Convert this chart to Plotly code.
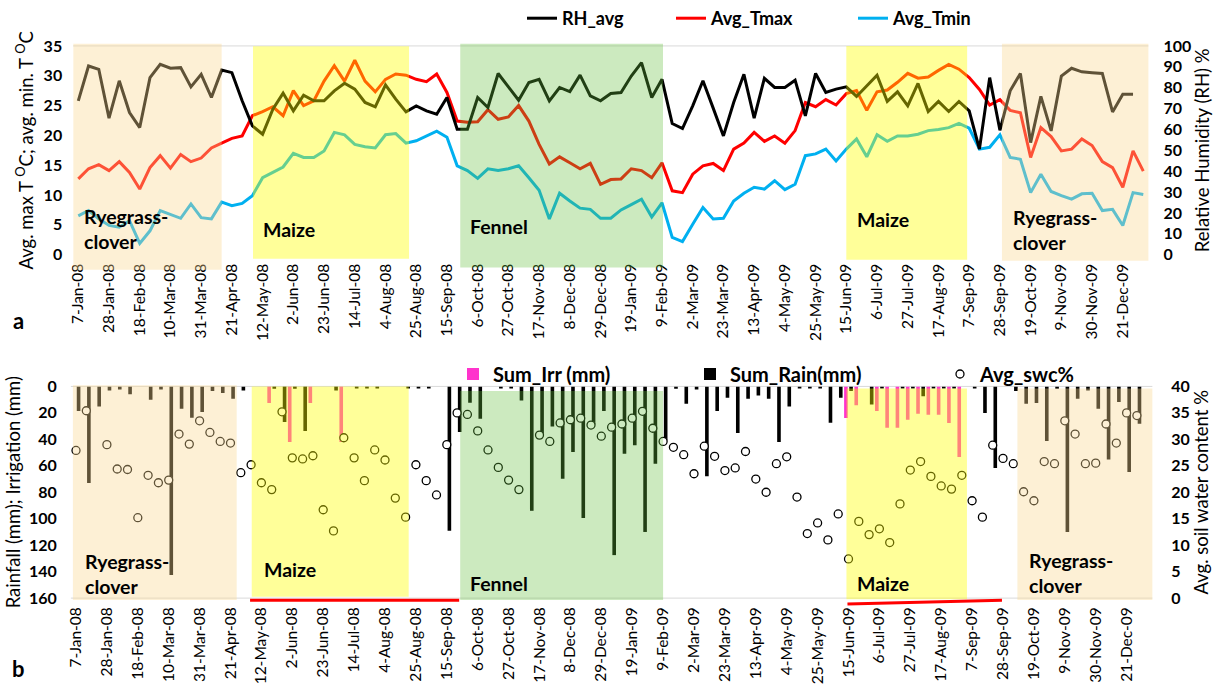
import pandas as pd
import plotly.graph_objects as go

N = None

# ---- weekly time axis (Monday of each week) ----
weeks = pd.date_range("2008-01-07", periods=105, freq="7D")
week_labels = [f"{d.day}-{d.strftime('%b')}-{d.strftime('%y')}" for d in weeks]
tick_weeks = list(weeks[::3])
tick_text = week_labels[::3]

# ---- panel a: weekly climate ----
rh_avg = [
    73.7, 90.4, 88.8, 65.4, 83.3, 68.1, 60.9, 84.8, 91.2, 89.3, 89.6, 80.4, 86.4, 75.3, 88.4, 87.2,
    73.7, 61.7, 57.7, 69.7, 77.4, 68.9, 76.4, 73.7, 73.7, 78.5, 82.1, 79.3, 72.9, 70.8, 81.3, 74.5,
    68.4, 71.3, 68.9, 67.3, 75.3, 60.1, 60.1, 75.3, 70.5, 86.8, 80.4, 74.0, 82.5, 84.0, 73.7, 80.1,
    78.1, 86.0, 76.1, 73.7, 77.2, 77.7, 85.6, 92.0, 75.3, 84.0, 62.8, 60.4, 71.3, 83.3, 70.2, 56.9,
    72.9, 86.4, 65.4, 84.5, 80.1, 80.1, 83.6, 66.5, 86.8, 77.7, 79.3, 80.4, 75.8, 80.9, 86.0, 73.4,
    78.0, 71.3, 82.0, 68.6, 73.4, 68.6, 73.4, 68.9, 50.6, 84.8, 59.6, 78.5, 86.8, 53.7, 75.8, 59.3,
    85.6, 89.3, 87.6, 87.2, 86.8, 68.4, 76.9, 76.9,
]
avg_tmax = [
    12.7, 14.4, 15.1, 14.1, 15.6, 13.8, 11.0, 14.6, 16.6, 14.5, 16.8, 15.6, 16.2, 17.9, 18.7, 19.5,
    19.9, 23.3, 24.0, 24.8, 23.3, 27.5, 25.0, 25.8, 29.1, 31.7, 29.1, 32.6, 29.1, 27.3, 29.4, 30.3,
    30.1, 29.4, 29.0, 30.3, 27.2, 22.4, 22.2, 22.3, 24.3, 22.7, 23.1, 25.0, 22.4, 18.5, 15.2, 16.4,
    15.4, 14.4, 15.3, 11.8, 12.6, 12.7, 14.4, 14.1, 12.9, 15.4, 10.7, 10.4, 13.5, 14.9, 15.3, 14.1,
    17.7, 18.7, 20.5, 19.0, 19.9, 18.7, 20.8, 25.5, 24.8, 26.0, 25.1, 27.0, 27.5, 24.2, 27.3, 27.6,
    28.9, 30.4, 29.6, 29.8, 30.9, 31.9, 31.1, 29.7, 27.7, 25.1, 26.0, 24.2, 23.8, 16.3, 21.3, 19.8,
    17.4, 17.7, 19.4, 18.3, 15.6, 14.6, 11.3, 17.4, 14.0,
]
avg_tmin = [
    6.5, 7.4, 6.0, 4.9, 4.6, 5.7, 1.9, 4.0, 7.4, 6.7, 6.1, 8.5, 6.2, 6.0, 8.8, 8.2,
    8.6, 9.9, 12.9, 13.8, 14.7, 17.0, 16.3, 16.3, 17.4, 20.5, 20.1, 18.5, 18.1, 17.9, 20.1, 20.3,
    18.7, 19.1, 19.9, 20.7, 19.7, 14.9, 14.1, 12.8, 14.4, 14.1, 14.4, 14.9, 12.9, 10.8, 6.0, 10.3,
    9.0, 7.8, 7.6, 6.1, 6.1, 7.5, 8.4, 9.3, 6.3, 8.7, 2.9, 2.2, 5.1, 7.9, 6.0, 6.1,
    9.0, 10.3, 11.3, 11.0, 12.4, 10.9, 11.8, 16.6, 16.9, 17.7, 15.7, 17.7, 19.4, 16.4, 20.1, 19.0,
    19.9, 19.9, 20.2, 20.8, 21.0, 21.3, 22.0, 21.2, 17.7, 18.0, 20.1, 16.3, 16.0, 10.4, 13.5, 10.6,
    9.9, 9.3, 10.2, 10.3, 7.4, 7.6, 4.9, 10.4, 10.1,
]

# ---- panel b: weekly water balance ----
sum_irr = [N] * 104
for wk_i, mm in [(19, 12.6), (21, 42.0), (23, 12.6), (26, 42.0), (75, 23.9), (76, 14.3), (78, 18.6),
                 (79, 31.2), (80, 31.2), (81, 25.2), (82, 20.6), (83, 21.4), (84, 21.4), (85, 27.7),
                 (86, 53.3)]:
    sum_irr[wk_i] = mm
sum_rain = [
    18.6, 73.0, 15.1, 3.0, 2.3, 6.0, N, 10.0, 2.3, 142.6, 16.9, 23.6, 19.4, 3.5, 5.0, 9.3,
    3.0, N, N, 1.8, 26.9, 1.8, 33.7, N, N, 3.0, N, 1.0, 1.0, 1.0, N, N,
    1.0, 1.0, 1.0, N, 109.0, 34.5, 12.3, 24.4, N, 1.0, 1.0, 10.6, 94.0, 35.7, 30.2, 69.7,
    49.6, 99.4, 28.7, 18.6, 127.5, 50.8, 44.5, 110.0, 58.4, 40.8, 1.8, 13.1, 2.3, 67.9, 18.6, 8.6,
    35.2, 9.3, 6.8, 9.3, 42.0, 15.1, 1.0, 1.0, 1.0, 27.4, 8.6, 3.5, N, 13.6, 1.0, N,
    1.0, 1.0, 7.5, 1.0, 1.0, 1.0, N, 1.0, 20.1, 61.6, N, 3.5, 13.1, 12.6, 41.3, 1.8,
    110.0, 9.3, 3.0, 16.9, 55.3, 11.8, 64.7, 28.2,
]
avg_swc = [
    27.9, 35.4, N, 29.0, 24.4, 24.3, 15.2, 23.2, 21.8, 22.3, 31.0, 29.1, 33.5, 31.3, 29.6, 29.3,
    23.7, 25.2, 21.8, 20.5, 35.2, 26.5, 26.3, 26.9, 16.7, 12.7, 30.3, 26.5, 22.2, 28.0, 26.1, 18.9,
    15.3, 25.2, 22.2, 19.5, 29.0, 35.0, 34.7, 31.6, 28.0, 24.7, 22.3, 20.5, N, 30.8, 29.6, 33.1,
    33.7, 34.0, 32.7, 30.6, 32.3, 32.9, 34.0, 35.3, 32.1, 29.6, 28.5, 27.1, 23.5, 28.7, 26.8, 24.1,
    24.6, 27.7, 22.5, 20.0, 25.4, 26.7, 19.1, 12.2, 14.2, 11.0, 15.9, 7.4, 14.5, 12.0, 13.1, 10.5,
    17.8, 24.2, 25.8, 23.0, 21.2, 20.6, 23.2, 18.4, 15.3, 28.9, 26.4, 25.4, 20.1, 18.4, 25.8, 25.4,
    33.5, 31.0, 25.4, 25.5, 32.9, 29.3, 35.0, 34.5,
]

# crop seasons as week offsets from 7-Jan-08: (label, crop, start, end, bottom/top extent in axis-domain units)
seasons_a = [
    ("Ryegrass-<br>clover", "ryegrass", -0.5, 14.0, -0.072, 1.01),
    ("Maize", "maize", 17.06, 32.3, -0.019, 0.998),
    ("Fennel", "fennel", 37.3, 57.1, -0.062, 1.01),
    ("Maize", "maize", 75.0, 86.8, -0.024, 1.0),
    ("Ryegrass-<br>clover", "ryegrass", 90.2, 104.7, -0.029, 1.01),
]
seasons_b = [
    ("Ryegrass-<br>clover", "ryegrass", -0.3, 15.6, -0.009, 1.005),
    ("Maize", "maize", 17.06, 32.3, 0.006, 1.0),
    ("Fennel", "fennel", 37.3, 57.0, -0.009, 0.978),
    ("Maize", "maize", 74.8, 86.5, -0.005, 0.99),
    ("Ryegrass-<br>clover", "ryegrass", 91.4, 104.6, -0.009, 0.99),
]
# crop-label placement: (week, height in axis-domain units)
labels_a = [(0.36, 0.124), (17.85, 0.12), (38.05, 0.134), (75.85, 0.167), (91.1, 0.117)]
labels_b = [(0.7, 0.116), (18.1, 0.137), (38.1, 0.071), (75.6, 0.071), (92.3, 0.12)]
# maize growing periods marked under panel b
maize_periods = [(16.9, 37.2, -0.01, -0.01), (74.9, 89.9, -0.028, -0.01)]

band_fill = {
    "ryegrass": ("rgb(250,216,145)", 0.38),
    "maize": ("rgb(255,255,0)", 0.40),
    "fennel": ("rgb(100,190,60)", 0.33),
}


def wk(w):
    return weeks[0] + pd.Timedelta(days=7 * w)


FONT = "Lato, 'Open Sans', sans-serif"
x_range = [wk(-0.5), wk(104.5)]

fig = go.Figure()

# panel a lines
fig.add_trace(go.Scatter(x=weeks[:len(rh_avg)], y=rh_avg, name="RH_avg", mode="lines",
                         line=dict(color="#000000", width=3), xaxis="x", yaxis="y2", legend="legend"))
fig.add_trace(go.Scatter(x=weeks, y=avg_tmax, name="Avg_Tmax", mode="lines",
                         line=dict(color="#FF0000", width=3), xaxis="x", yaxis="y", legend="legend2"))
fig.add_trace(go.Scatter(x=weeks, y=avg_tmin, name="Avg_Tmin", mode="lines",
                         line=dict(color="#00B0F0", width=3), xaxis="x", yaxis="y", legend="legend3"))

# panel b bars and soil water content
fig.add_trace(go.Bar(x=weeks[:104], y=sum_irr, name="Sum_Irr (mm)", marker=dict(color="#FF33CC", line_width=0),
                     xaxis="x2", yaxis="y3", legend="legend4"))
fig.add_trace(go.Bar(x=weeks[:104], y=sum_rain, name="Sum_Rain(mm)", marker=dict(color="#000000", line_width=0),
                     xaxis="x2", yaxis="y3", legend="legend5"))
fig.add_trace(go.Scatter(x=weeks[:104], y=avg_swc, name="Avg_swc%", mode="markers",
                         marker=dict(symbol="circle", size=8, color="#FFFFFF", line=dict(color="#000000", width=1.3)),
                         xaxis="x2", yaxis="y4", legend="legend6"))

shapes = []
annotations = []

# plot frame lines
shapes.append(dict(type="line", xref="x domain", yref="y domain", x0=0, x1=1, y0=1, y1=1,
                   line=dict(color="#D9D9D9", width=1), layer="below"))
for yy in (0, 1):
    shapes.append(dict(type="line", xref="x2 domain", yref="y3 domain", x0=0, x1=1, y0=yy, y1=yy,
                       line=dict(color="#D9D9D9", width=1), layer="below"))

for (seasons, labels, xr, yr) in ((seasons_a, labels_a, "x", "y domain"), (seasons_b, labels_b, "x2", "y3 domain")):
    for (text, kind, w0, w1, yb, yt), (lx, ly) in zip(seasons, labels):
        color, op = band_fill[kind]
        shapes.append(dict(type="rect", xref=xr, yref=yr, x0=wk(w0), x1=wk(w1), y0=yb, y1=yt,
                           fillcolor=color, opacity=op, line_width=0, layer="above"))
        annotations.append(dict(text=text, xref=xr, yref=yr, x=wk(lx), y=ly, xanchor="left", yanchor="middle",
                                align="left", showarrow=False,
                                font=dict(family=FONT, size=19.5, color="#000000", weight="bold")))

for w0, w1, y0, y1 in maize_periods:
    shapes.append(dict(type="line", xref="x2", yref="y3 domain", x0=wk(w0), x1=wk(w1), y0=y0, y1=y1,
                       line=dict(color="#FF0000", width=3), layer="above"))

for letter, ypx in (("a", 320), ("b", 668)):
    annotations.append(dict(text=letter, xref="paper", yref="paper", x=18 / 1217, y=1 - ypx / 689,
                            xanchor="center", yanchor="middle", showarrow=False,
                            font=dict(family=FONT, size=22, color="#000000", weight="bold")))

tickfont_x = dict(family=FONT, size=15.5, color="#000000")
tickfont_y = dict(family=FONT, size=16, color="#000000", weight="bold")
titlefont = dict(family=FONT, size=18.5, color="#000000")

common_x = dict(type="date", range=x_range, tickmode="array", tickvals=tick_weeks, ticktext=tick_text,
                tickangle=-90, tickfont=tickfont_x, showgrid=False, zeroline=False, showline=False,
                ticks="", ticklabelstandoff=5, automargin=False)
common_y = dict(showgrid=False, zeroline=False, showline=False, ticks="", tickfont=tickfont_y,
                automargin=False)


def legend_box(xpx, ypx, size):
    return dict(x=xpx / 1217, y=1 - ypx / 689, orientation="h", xanchor="left", yanchor="middle",
                bgcolor="rgba(0,0,0,0)", borderwidth=0,
                font=dict(family=FONT, size=size, color="#000000", weight="bold"),
                itemclick=False, itemdoubleclick=False)


fig.update_layout(
    width=1217, height=689,
    margin=dict(l=0, r=0, t=0, b=0),
    paper_bgcolor="#FFFFFF", plot_bgcolor="rgba(0,0,0,0)",
    barmode="group", bargap=0.0, bargroupgap=0.3,
    xaxis=dict(domain=[0.06013, 0.94363], anchor="y", **common_x),
    xaxis2=dict(domain=[0.05822, 0.94688], anchor="y3", **common_x),
    yaxis=dict(domain=[0.6313, 0.9347], range=[0, 35], dtick=5, anchor="x", ticklabelstandoff=10,
               title=dict(text="Avg. max T <sup>O</sup>C; avg. min. T <sup>O</sup>C", font=titlefont, standoff=5),
               **common_y),
    yaxis2=dict(domain=[0.6313, 0.9347], range=[0, 100], dtick=10, anchor="x", overlaying="y", side="right",
                ticklabelstandoff=14,
                title=dict(text="Relative Humidity (RH) %", font=titlefont, standoff=5), **common_y),
    yaxis3=dict(domain=[0.1321, 0.4398], range=[160, 0], dtick=20, anchor="x2", ticklabelstandoff=13,
                title=dict(text="Rainfall (mm); Irrigation (mm)", font=titlefont, standoff=3), **common_y),
    yaxis4=dict(domain=[0.1321, 0.4398], range=[0, 40], dtick=5, anchor="x2", overlaying="y3", side="right",
                ticklabelstandoff=18,
                title=dict(text="Avg. soil water content %", font=titlefont, standoff=1), **common_y),
    legend=legend_box(522, 18, 18),
    legend2=legend_box(671, 18, 18),
    legend3=legend_box(853, 18, 18),
    legend4=legend_box(453, 374, 20),
    legend5=legend_box(690, 374, 20),
    legend6=legend_box(940, 374, 20),
    shapes=shapes,
    annotations=annotations,
    showlegend=True,
)

fig.write_html("out.html")
